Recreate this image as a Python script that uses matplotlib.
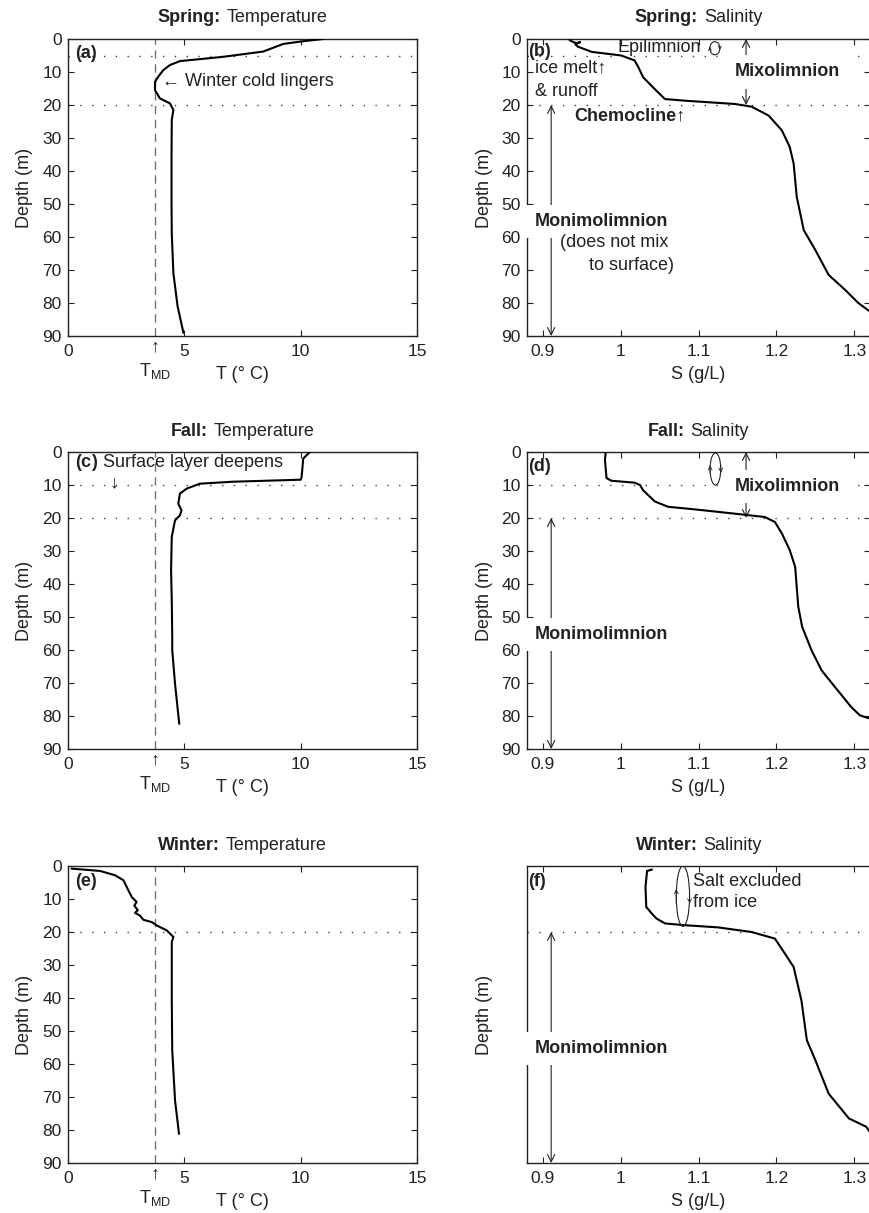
import numpy as np
import matplotlib.pyplot as plt
from matplotlib.patches import Ellipse
from matplotlib.offsetbox import TextArea, HPacker, AnnotationBbox

plt.rcParams['font.family'] = ['Liberation Sans', 'DejaVu Sans']
plt.rcParams['mathtext.fontset'] = 'custom'
plt.rcParams['mathtext.rm'] = 'Liberation Sans'
plt.rcParams['mathtext.bf'] = 'Liberation Sans:bold'
plt.rcParams['mathtext.it'] = 'Liberation Sans:italic'

# ---- profiles (depth in m) ----
spring_temp_depth = [0, 0.8, 1.5, 3.8, 5.4, 6.7, 7.9, 9.4, 11.4, 13, 15.5, 18, 19.5, 21.5,
                     24.5, 35, 50, 59, 71, 81, 89]
spring_temp = [10.96, 9.97, 9.25, 8.39, 6.67, 4.81, 4.38, 4.1, 3.88, 3.74, 3.74, 3.95, 4.38,
               4.53, 4.46, 4.45, 4.45, 4.46, 4.53, 4.71, 4.96]

fall_temp_depth = [0, 1, 2, 7.6, 8.4, 9, 9.6, 11.1, 12.6, 15.7, 17.7, 19.2, 20.7, 25.7, 35.8,
                   44.9, 56, 60.1, 70.2, 82.3]
fall_temp = [10.4, 10.25, 10.11, 10.04, 10.0, 7.1, 5.67, 5.1, 4.81, 4.74, 4.88, 4.81, 4.6,
             4.46, 4.43, 4.46, 4.48, 4.48, 4.6, 4.78]

winter_temp_depth = [0.8, 1.5, 2.8, 4.3, 7.3, 9.4, 10.9, 12.0, 13.4, 14.2, 15, 16.3, 17, 18,
                     19.5, 21.5, 23, 29.6, 40.7, 55.9, 71, 81.1]
winter_temp = [0.16, 1.38, 2.02, 2.38, 2.59, 2.74, 2.95, 2.85, 3.0, 2.88, 3.09, 3.24, 3.6,
               3.81, 4.24, 4.53, 4.46, 4.46, 4.46, 4.48, 4.6, 4.77]

spring_sal_depth = [0.4, 1.0, 1.3, 0.9, 1.6, 2.3, 3.9, 5.0, 6.5, 8.6, 11.6, 15.2, 18.2, 18.7,
                    19.7, 20.5, 23.2, 27.7, 32.7, 37.7, 47.8, 57.9, 64, 71.5, 76, 80, 82.6]
spring_sal = [0.935, 0.94, 0.945, 0.948, 0.942, 0.945, 0.963, 1.001, 1.018, 1.023, 1.029,
              1.044, 1.057, 1.083, 1.147, 1.168, 1.19, 1.207, 1.217, 1.222, 1.226, 1.235,
              1.25, 1.267, 1.288, 1.305, 1.32]

fall_sal_depth = [0, 2.3, 7.9, 8.7, 9.3, 10, 11.6, 15, 16.6, 17.6, 18.7, 19.7, 21.2, 24.7,
                  29.7, 34.8, 40.9, 46.9, 53, 60.1, 66.2, 71.2, 77.3, 79.8, 80.8]
fall_sal = [0.981, 0.98, 0.982, 0.988, 1.018, 1.025, 1.029, 1.044, 1.061, 1.104, 1.147,
            1.185, 1.198, 1.207, 1.217, 1.224, 1.226, 1.228, 1.233, 1.245, 1.258, 1.275,
            1.296, 1.307, 1.32]

winter_sal_depth = [1.1, 1.5, 6.4, 12.4, 14.4, 15.9, 17.4, 17.9, 18.6, 20, 22, 26.6, 30.6,
                    40.7, 52.8, 58.9, 69, 76.5, 79, 81]
winter_sal = [1.04, 1.034, 1.032, 1.033, 1.04, 1.046, 1.057, 1.08, 1.125, 1.168, 1.198,
              1.211, 1.222, 1.232, 1.239, 1.25, 1.267, 1.293, 1.315, 1.321]

T_MD = 3.75
seasons = ['Spring', 'Fall', 'Winter']
temp_ticks = [0, 5, 10, 15]
sal_ticks = [0.9, 1.0, 1.1, 1.2, 1.3]
sal_ticklabels = ['0.9', '1', '1.1', '1.2', '1.3']
depth_ticks = [0, 10, 20, 30, 40, 50, 60, 70, 80, 90]
dotted_depths = [[5, 20], [10, 20], [20]]

TXT = '#222222'
FS = 13
W, H = 870, 1213

fig = plt.figure(figsize=(8.7, 12.13), dpi=100)

def px_axes(x0, y0, x1, y1):
    return fig.add_axes([x0 / W, 1 - y1 / H, (x1 - x0) / W, (y1 - y0) / H])

rows = [(39, 336), (452, 749), (866, 1163)]
axes = []
for (y0, y1) in rows:
    axes.append((px_axes(68, y0, 417, y1), px_axes(527, y0, 870, y1)))


def style(ax, xlim, xticks, xticklabels=None, ylabels=True):
    ax.set_xlim(*xlim)
    ax.set_ylim(90, 0)
    ax.set_xticks(xticks)
    if xticklabels is not None:
        ax.set_xticklabels(xticklabels)
    if ylabels:
        ax.set_yticks(depth_ticks)
    else:
        ax.set_yticks([])
    ax.tick_params(direction='in', top=True, right=True, length=4.5, width=0.8,
                   labelsize=12.5, colors=TXT)
    ax.tick_params(axis='x', pad=5.5)
    ax.tick_params(axis='y', pad=4.5)
    for s in ax.spines.values():
        s.set_linewidth(1.0)
        s.set_color('#222222')
    ax.set_ylabel('Depth (m)', fontsize=FS, color=TXT)
    ax.yaxis.set_label_coords(-0.10, 0.5)


def title(ax, bold, rest):
    parts = HPacker(children=[
        TextArea(bold, textprops=dict(fontweight='bold', fontsize=FS, color=TXT)),
        TextArea(rest, textprops=dict(fontsize=FS, color=TXT))],
        pad=0, sep=4, align='baseline')
    ab = AnnotationBbox(parts, (0.5, 1.0), xycoords='axes fraction',
                        xybox=(0, 21), boxcoords='offset pixels',
                        box_alignment=(0.5, 0.5), frameon=False, annotation_clip=False)
    ax.add_artist(ab)


temp_data = [(spring_temp, spring_temp_depth), (fall_temp, fall_temp_depth),
             (winter_temp, winter_temp_depth)]
sal_data = [(spring_sal, spring_sal_depth), (fall_sal, fall_sal_depth),
            (winter_sal, winter_sal_depth)]

arrow_kw = dict(arrowstyle='<->', lw=0.8, color='#222222', shrinkA=0, shrinkB=0,
                mutation_scale=13)

for i, (axT, axS) in enumerate(axes):
    style(axT, (0, 15), temp_ticks)
    style(axS, (0.88, 1.32), sal_ticks, sal_ticklabels, ylabels=(i < 2))
    title(axT, seasons[i] + ':', 'Temperature')
    title(axS, seasons[i] + ':', 'Salinity')

    for ax in (axT, axS):
        for dd in dotted_depths[i]:
            ax.axhline(dd, color='0.25', lw=1.0, ls=(0, (1, 7.5)), zorder=1)

    axT.axvline(T_MD, color='0.45', lw=1.0, ls=(0, (6, 4)), zorder=1)
    axT.plot(temp_data[i][0], temp_data[i][1], color='k', lw=1.5, zorder=3)
    axS.plot(sal_data[i][0], sal_data[i][1], color='k', lw=1.5, zorder=3)

    # T axis labels
    axT.set_xlabel('T (° C)', fontsize=FS, color=TXT)
    axT.xaxis.set_label_coords(0.5, -0.10)
    tr = axT.get_xaxis_transform()
    axT.text(T_MD, -0.035, '↑', transform=tr, ha='center', va='center', fontsize=13,
             color=TXT, clip_on=False)
    axT.text(T_MD, -0.118, r'T$_{\rm MD}$', transform=tr, ha='center', va='center',
             fontsize=FS, color=TXT, clip_on=False)

    axS.set_xlabel('S (g/L)', fontsize=FS, color=TXT)
    axS.xaxis.set_label_coords(0.5, -0.10)

    # monimolimnion arrow
    axS.annotate('', xy=(0.911, 90), xytext=(0.911, 20), arrowprops=arrow_kw, zorder=2)
    axS.text(0.8897, 55.4, 'Monimolimnion', fontweight='bold', fontsize=FS, color=TXT,
             ha='left', va='center', zorder=4,
             bbox=dict(facecolor='white', edgecolor='none', boxstyle='square,pad=0.45'))


def ellipse_arrows(ax, cx, cy, w, h, size=7):
    ax.add_patch(Ellipse((cx, cy), w, h, fill=False, lw=0.8, ec='#222222', zorder=3))
    dy = h * 0.12
    ax.annotate('', xy=(cx - w / 2, cy - dy), xytext=(cx - w / 2, cy + dy),
                arrowprops=dict(arrowstyle='->', lw=0.6, color='#222222',
                                shrinkA=0, shrinkB=0, mutation_scale=size))
    ax.annotate('', xy=(cx + w / 2, cy + dy), xytext=(cx + w / 2, cy - dy),
                arrowprops=dict(arrowstyle='->', lw=0.6, color='#222222',
                                shrinkA=0, shrinkB=0, mutation_scale=size))


def mixo(ax, dtext):
    ax.annotate('', xy=(1.161, 20), xytext=(1.161, 0), arrowprops=arrow_kw, zorder=2)
    ax.text(1.214, dtext, 'Mixolimnion', fontweight='bold', fontsize=FS, color=TXT,
            ha='center', va='center', zorder=4,
            bbox=dict(facecolor='white', edgecolor='none', boxstyle='square,pad=0.45'))


# ---- panel (a)
a, b = axes[0]
a.text(0.3, 4.5, '(a)', fontweight='bold', fontsize=FS, color=TXT, ha='left', va='center')
a.text(4.04, 12.9, '← Winter cold lingers', fontsize=FS, color=TXT, ha='left', va='center')

# ---- panel (b)
b.text(0.882, 3.9, '(b)', fontweight='bold', fontsize=FS, color=TXT, ha='left', va='center',
       zorder=5)
b.text(0.8897, 8.8, 'ice melt↑', fontsize=FS, color=TXT, ha='left', va='center')
b.text(0.8897, 15.8, '& runoff', fontsize=FS, color=TXT, ha='left', va='center')
b.text(0.9964, 2.7, 'Epilimnion', fontsize=FS, color=TXT, ha='left', va='center')
ellipse_arrows(b, 1.121, 2.8, 0.0128, 4.0, size=5)
b.text(0.941, 23.3, 'Chemocline↑', fontweight='bold', fontsize=FS, color=TXT,
       ha='left', va='center')
mixo(b, 10.0)
b.text(0.922, 61.8, '(does not mix', fontsize=FS, color=TXT, ha='left', va='center', zorder=5)
b.text(0.960, 68.5, 'to surface)', fontsize=FS, color=TXT, ha='left', va='center', zorder=5)

# ---- panel (c)
c, d = axes[1]
c.text(0.3, 3.2, r'$\bf{(c)}$ Surface layer deepens', fontsize=FS, color=TXT,
       ha='left', va='center')
c.text(1.98, 6.9, '↓', fontsize=13, color=TXT, ha='center', va='top')

# ---- panel (d)
d.text(0.882, 4.5, '(d)', fontweight='bold', fontsize=FS, color=TXT, ha='left', va='center')
ellipse_arrows(d, 1.1217, 5.15, 0.0137, 9.7)
mixo(d, 10.4)

# ---- panel (e)
e, f = axes[2]
e.text(0.3, 4.8, '(e)', fontweight='bold', fontsize=FS, color=TXT, ha='left', va='center')

# ---- panel (f)
f.text(0.882, 4.8, '(f)', fontweight='bold', fontsize=FS, color=TXT, ha='left', va='center')
ellipse_arrows(f, 1.08, 9.15, 0.0171, 18.3)
f.text(1.093, 4.8, 'Salt excluded', fontsize=FS, color=TXT, ha='left', va='center')
f.text(1.093, 11.1, 'from ice', fontsize=FS, color=TXT, ha='left', va='center')

fig.savefig('out.png', dpi=100)
